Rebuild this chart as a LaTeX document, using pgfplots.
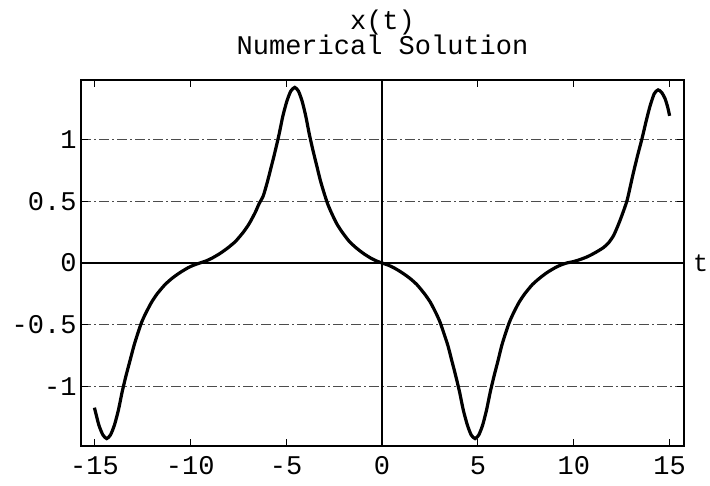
\documentclass[border=0pt]{standalone}
\usepackage{pgfplots}
\pgfplotsset{compat=1.18}
\usepackage{fontspec}
\setmonofont{Liberation Mono}
\begin{document}
\begin{tikzpicture}[x=1pt,y=1pt]
\path[use as bounding box] (0,0) rectangle (710,486);
\begin{axis}[
  at={(81pt,40pt)}, anchor=south west,
  scale only axis, width=603pt, height=366pt,
  xmin=-15.70, xmax=15.75, ymin=-1.48, ymax=1.48,
  axis line style={black, line width=1.8pt},
  xtick={-15,-10,-5,0,5,10,15},
  xticklabels={-15,-10,-5,0,5,10,15},
  ytick={-1,-0.5,0,0.5,1},
  yticklabels={-1,-0.5,0,0.5,1},
  tick align=inside,
  major tick length=7pt,
  major tick style={black, line width=1pt},
  ticklabel style={font=\ttfamily\fontsize{27}{27}\selectfont, text=black},
  xticklabel style={yshift=-7pt},
  yticklabel style={xshift=-1pt},
  ymajorgrids=true,
  major grid style={black!70, line width=1.2pt, dash pattern=on 10pt off 3pt on 2pt off 3pt},
  xlabel={t},
  xlabel style={at={(rel axis cs:1,0.5)}, anchor=west, inner sep=0pt, xshift=9pt, font=\ttfamily\fontsize{25}{25}\selectfont},
  clip=false,
  axis on top=false,
]
\addplot[black, line width=2.2pt, forget plot] coordinates {(-15.70,0) (15.75,0)};
\addplot[black, line width=1.4pt, forget plot] coordinates {(0,-1.48) (0,1.48)};
\addplot[black, line width=3.2pt, smooth, tension=0.4] coordinates {
(-15.00,-1.17) (-14.77,-1.31) (-14.56,-1.39) (-14.36,-1.42)
(-14.16,-1.39) (-13.955,-1.31) (-13.75,-1.19) (-13.55,-1.04) (-13.35,-0.91)
(-13.145,-0.79) (-12.94,-0.67) (-12.74,-0.57) (-12.54,-0.48) (-12.335,-0.41)
(-12.03,-0.32) (-11.73,-0.25) (-11.32,-0.175) (-10.92,-0.12) (-10.51,-0.075)
(-10.11,-0.038) (-9.80,-0.016) (-9.50,0)
(-9.19,0.016) (-8.88,0.038) (-8.47,0.075) (-8.06,0.12) (-7.64,0.175)
(-7.23,0.25) (-6.92,0.32) (-6.61,0.41) (-6.41,0.48) (-6.20,0.54)
(-5.99,0.65) (-5.79,0.77) (-5.58,0.90) (-5.37,1.04) (-5.17,1.19)
(-4.96,1.31) (-4.76,1.39) (-4.55,1.42)
(-4.36,1.39) (-4.17,1.31) (-3.98,1.19) (-3.79,1.04) (-3.60,0.91)
(-3.41,0.79) (-3.22,0.67) (-3.03,0.57) (-2.84,0.48) (-2.65,0.41)
(-2.37,0.32) (-2.08,0.25) (-1.71,0.175) (-1.33,0.12) (-0.95,0.075)
(-0.57,0.038) (-0.28,0.016) (0,0)
(0.30,-0.016) (0.61,-0.038) (1.01,-0.075) (1.42,-0.12) (1.82,-0.175)
(2.22,-0.25) (2.53,-0.32) (2.83,-0.41) (3.03,-0.48) (3.23,-0.57)
(3.44,-0.67) (3.64,-0.79) (3.84,-0.91) (4.04,-1.04) (4.24,-1.19)
(4.45,-1.31) (4.65,-1.39) (4.85,-1.42)
(5.05,-1.39) (5.25,-1.31) (5.45,-1.19) (5.65,-1.04) (5.85,-0.91)
(6.05,-0.79) (6.24,-0.67) (6.44,-0.57) (6.64,-0.48) (6.84,-0.41)
(7.14,-0.32) (7.44,-0.25) (7.84,-0.175) (8.24,-0.12) (8.63,-0.075)
(9.03,-0.038) (9.33,-0.016) (9.63,0)
(10.00,0.012) (10.33,0.028) (10.70,0.05) (11.02,0.075) (11.30,0.10)
(11.55,0.125) (11.80,0.16) (12.07,0.22) (12.30,0.30) (12.50,0.38)
(12.77,0.50) (12.95,0.62) (13.11,0.73) (13.33,0.87) (13.55,1.00)
(13.78,1.15) (13.98,1.27) (14.20,1.37) (14.40,1.40) (14.58,1.38)
(14.76,1.33) (14.90,1.26) (15.00,1.19)
};
\node[font=\ttfamily\fontsize{27}{27}\selectfont, anchor=base] at (rel axis cs:0.5,1) [yshift=25pt] {Numerical Solution};
\node[font=\ttfamily\fontsize{27}{27}\selectfont, anchor=base] at (rel axis cs:0.5,1) [yshift=50pt] {x(t)};
\end{axis}
\end{tikzpicture}
\end{document}
